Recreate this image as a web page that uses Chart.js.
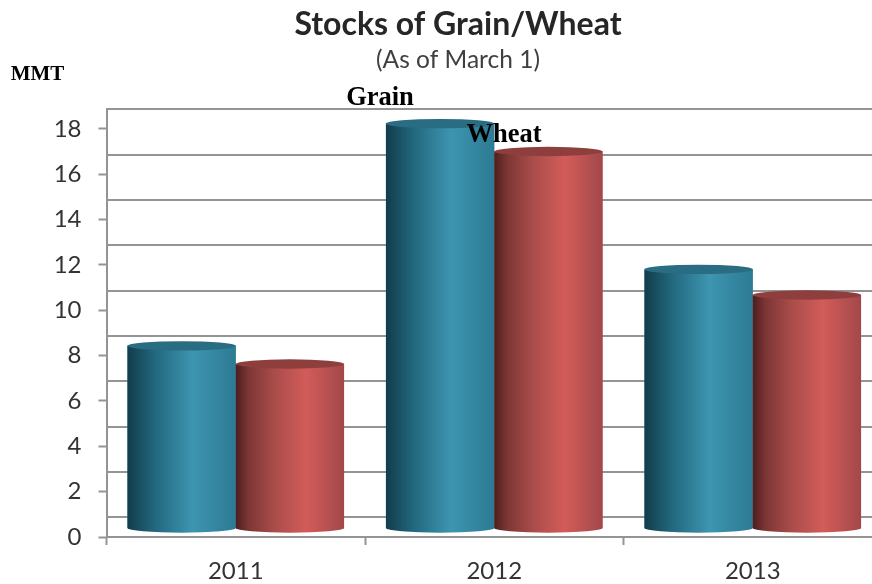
<!DOCTYPE html>
<html>
<head>
<meta charset="utf-8">
<style>
html,body{margin:0;padding:0;background:#fff;overflow:hidden;width:872px;height:584px}
canvas{display:block}
</style>
<script src="https://cdn.jsdelivr.net/npm/chart.js@4/dist/chart.umd.js"></script>
</head>
<body>
<canvas id="c" width="916" height="584"></canvas>
<script>
const categories = ["2011", "2012", "2013"];
const grainValues = [8.03, 17.83, 11.4];
const wheatValues = [7.23, 16.6, 10.27];
const yTicks = [0, 2, 4, 6, 8, 10, 12, 14, 16, 18];
const gray = "#949494";
const textColor = "#333333";

const blueStops = [[0,"#123c4b"],[0.25,"#22677d"],[0.6,"#3d95b0"],[1,"#2d7a93"]];
const redStops = [[0,"#4d1e1e"],[0.12,"#7d3634"],[0.35,"#a84c4a"],[0.65,"#d25c59"],[1,"#a2484a"]];
const topColors = ["#2a6c82", "#8e3f3d"];

const cylinders = {
  id: "cylinders",
  afterDatasetsDraw(chart) {
    const ctx = chart.ctx;
    const ry = 4.7;
    chart.data.datasets.forEach((ds, di) => {
      chart.getDatasetMeta(di).data.forEach(bar => {
        const w = bar.width, l = bar.x - w / 2, r = bar.x + w / 2;
        const g = ctx.createLinearGradient(l, 0, r, 0);
        (di === 0 ? blueStops : redStops).forEach(s => g.addColorStop(s[0], s[1]));
        ctx.save();
        ctx.beginPath();
        ctx.moveTo(l, bar.y);
        ctx.lineTo(l, bar.base);
        ctx.ellipse(bar.x, bar.base, w / 2, ry, 0, Math.PI, 0, true);
        ctx.lineTo(r, bar.y);
        ctx.closePath();
        ctx.fillStyle = g;
        ctx.fill();
        ctx.beginPath();
        ctx.ellipse(bar.x, bar.y, w / 2, ry, 0, 0, Math.PI * 2);
        ctx.fillStyle = topColors[di];
        ctx.fill();
        ctx.restore();
      });
    });
  }
};

const notes = {
  id: "notes",
  afterDraw(chart) {
    const ctx = chart.ctx;
    ctx.save();
    ctx.fillStyle = "#000";
    ctx.textAlign = "center";
    ctx.textBaseline = "middle";
    ctx.font = "bold 21px 'Liberation Serif'";
    ctx.fillText("MMT", 37.5, 75);
    ctx.font = "bold 26.5px 'Liberation Serif'";
    ctx.fillText("Grain", 380, 98);
    ctx.fillText("Wheat", 504, 135);
    ctx.restore();
  }
};

new Chart(document.getElementById("c"), {
  type: "bar",
  data: {
    labels: categories,
    datasets: [
      { label: "Grain", data: grainValues, yAxisID: "y3", backgroundColor: "#3d95b0", categoryPercentage: 0.838, barPercentage: 1 },
      { label: "Wheat", data: wheatValues, yAxisID: "y3", backgroundColor: "#d25c59", categoryPercentage: 0.838, barPercentage: 1 }
    ]
  },
  plugins: [cylinders, notes],
  options: {
    responsive: false,
    animation: false,
    layout: { padding: 0 },
    plugins: {
      legend: { display: false },
      tooltip: { enabled: false },
      title: {
        display: true, text: "Stocks of Grain/Wheat", color: "#262626",
        font: { family: "Lato", size: 32, weight: "bold" },
        padding: { top: 5, bottom: 0 }
      },
      subtitle: {
        display: true, text: "(As of March 1)", color: "#404040",
        font: { family: "Lato", size: 24.5 },
        padding: { top: 1.9, bottom: 34.6 }
      }
    },
    scales: {
      x: {
        grid: { drawOnChartArea: false, drawTicks: true, tickLength: 8, tickColor: gray, tickWidth: 2 },
        border: { display: true, color: gray, width: 2 },
        ticks: { color: textColor, font: { family: "Lato", size: 24 }, padding: 12, maxRotation: 0 },
        afterFit(a) { a.height = 47; }
      },
      y: {
        position: "left", min: 0, max: 18.86,
        afterBuildTicks(a) { a.ticks = yTicks.map(v => ({ value: v })); },
        grid: { drawOnChartArea: false, drawTicks: true, tickLength: 8, tickColor: gray, tickWidth: 2 },
        border: { display: true, color: gray, width: 2 },
        ticks: { color: textColor, font: { family: "Lato", size: 24 }, padding: 17 },
        afterFit(a) { a.width = 106.5; }
      },
      y2: {
        position: "right", min: -0.86, max: 18,
        afterBuildTicks(a) { a.ticks = yTicks.map(v => ({ value: v })); },
        grid: { drawOnChartArea: true, drawTicks: false, color: gray, lineWidth: 2 },
        border: { display: false },
        ticks: { display: false },
        afterFit(a) { a.width = 34; }
      },
      y3: { display: false, position: "left", min: -0.4, max: 18.46 }
    }
  }
});
</script>
</body>
</html>
